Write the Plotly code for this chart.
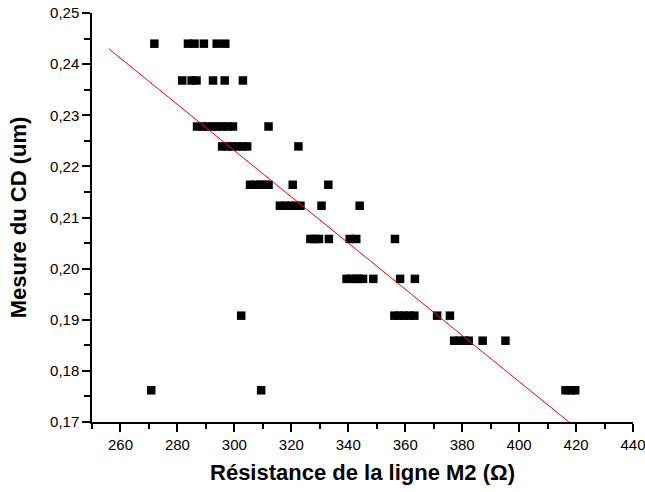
import plotly.graph_objects as go

# Data: (resistance, CD) pairs grouped by CD level
cd_levels = [0.2440, 0.2368, 0.2278, 0.2239, 0.2164, 0.2123, 0.2058, 0.1980, 0.1908, 0.1859, 0.1762]
res_by_level = [
    [271.9, 283.7, 286.0, 289.3, 293.8, 296.8],
    [281.7, 285.0, 286.7, 292.5, 296.6, 303.0],
    [286.9, 288.8, 290.5, 292.3, 294.0, 295.8, 297.5, 299.5, 312.0],
    [295.7, 297.5, 299.3, 301.1, 302.8, 304.5, 322.5],
    [305.5, 307.4, 309.1, 310.5, 312.0, 320.5, 333.0],
    [316.0, 317.9, 319.6, 321.4, 323.2, 330.6, 344.0],
    [326.7, 328.2, 329.7, 333.2, 340.5, 342.8, 356.4],
    [339.4, 341.1, 342.8, 343.7, 345.2, 348.8, 358.2, 363.4],
    [302.4, 356.2, 357.9, 359.6, 361.4, 363.2, 371.2, 375.7],
    [377.2, 378.9, 380.7, 382.3, 387.2, 395.2],
    [270.8, 309.4, 416.3, 418.2, 419.7],
]

# Linear fit line endpoints
fit_x = [255.9, 417.5]
fit_y = [0.2430, 0.1700]

x_vals = []
y_vals = []
for lvl, xs in zip(cd_levels, res_by_level):
    for xv in xs:
        x_vals.append(xv)
        y_vals.append(lvl)

x_title = "Résistance de la ligne M2 (Ω)"
y_title = "Mesure du CD (um)"

FONT = "Liberation Sans, Arial"

fig = go.Figure()
fig.add_trace(go.Scatter(
    x=x_vals, y=y_vals, mode="markers",
    marker=dict(symbol="square", size=8.5, color="black", line=dict(width=0)),
    showlegend=False,
))
fig.add_trace(go.Scatter(
    x=fit_x, y=fit_y, mode="lines",
    line=dict(color="red", width=1),
    showlegend=False,
))

axis_common = dict(
    showgrid=False, zeroline=False, showline=True, linecolor="black", linewidth=1.5,
    ticks="outside", ticklen=8, tickwidth=1.5, tickcolor="black",
    tickfont=dict(family=FONT, size=15, color="black"),
    mirror=False, automargin=False, ticklabeloverflow="allow",
)

fig.update_layout(
    width=645, height=492,
    margin=dict(l=91.5, r=12.3, t=13.3, b=70.3, autoexpand=False),
    paper_bgcolor="white", plot_bgcolor="white",
    separators=",.",
    xaxis=dict(
        range=[250, 440], tick0=260, dtick=20,
        minor=dict(dtick=10, tick0=250, ticks="outside", ticklen=5, tickwidth=1.5, tickcolor="black"),
        title=dict(text=x_title, font=dict(family=FONT, size=22, color="black", weight="bold"), standoff=13),
        **axis_common,
    ),
    yaxis=dict(
        range=[0.17, 0.25], tick0=0.17, dtick=0.01, tickformat=".2f",
        minor=dict(dtick=0.005, tick0=0.17, ticks="outside", ticklen=6, tickwidth=1.5, tickcolor="black"),
        title=dict(text=y_title, font=dict(family=FONT, size=22, color="black", weight="bold"), standoff=17),
        **axis_common,
    ),
)

# Remove the default 8px page margin so the figure fills the window exactly
fig.write_html(
    "out.html",
    config={"displayModeBar": False},
    post_script="document.body.style.margin='0';",
)
